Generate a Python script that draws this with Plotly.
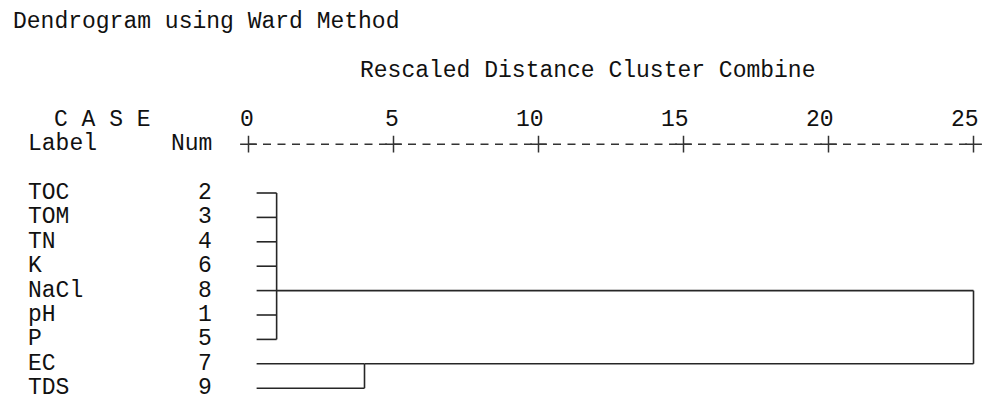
import plotly.graph_objects as go

# ---- data ----
labels = ["TOC", "TOM", "TN", "K", "NaCl", "pH", "P", "EC", "TDS"]
nums = [2, 3, 4, 6, 8, 1, 5, 7, 9]
tick_values = [0, 5, 10, 15, 20, 25]
tick_labels = ["0", "5", "10", "15", "20", "25"]
leaf_start = 0.28
# clusters: member rows, rescaled merge distance, row where the link leaves
cluster_rows = [[0, 1, 2, 3, 4, 5, 6], [7, 8]]
cluster_heights = [0.97, 4.0]
cluster_anchor = [4, 7]
final_height = 25.0

W, H = 983, 394
FONT = "Liberation Mono, Courier New, monospace"
FS = 23
LINE = "#262626"
TXT = "#111111"

# pixel <-> data mapping (layout only)
x0_px, unit_px = 248.5, 29.0
row0_px, row_px = 193.0, 24.4
xr = [(0 - x0_px) / unit_px, (W - x0_px) / unit_px]
yr = [(H - row0_px) / row_px, (0 - row0_px) / row_px]

fig = go.Figure()

xs, ys = [], []
def seg(xa, ya, xb, yb):
    xs.extend([xa, xb, None]); ys.extend([ya, yb, None])

for rows, h, anc in zip(cluster_rows, cluster_heights, cluster_anchor):
    for r in rows:
        seg(leaf_start, r, h, r)
    seg(h, min(rows), h, max(rows))
    seg(h, anc, final_height, anc)
seg(final_height, cluster_anchor[0], final_height, cluster_anchor[1])

fig.add_trace(go.Scatter(x=xs, y=ys, mode="lines",
                         line=dict(color=LINE, width=1.6), hoverinfo="skip"))

# rescaled-distance axis drawn as "+----+" ruler
fig.add_trace(go.Scatter(x=[tick_values[0], tick_values[-1]], y=[-2, -2], mode="lines",
                         line=dict(color="#333333", width=1.5, dash="8px,6.5px"),
                         hoverinfo="skip"))
fig.add_trace(go.Scatter(x=tick_values, y=[-2] * len(tick_values), mode="markers",
                         marker=dict(symbol="cross-thin", size=12,
                                     line=dict(color="#333333", width=1.5)),
                         hoverinfo="skip"))

ann = []
for t, lab in zip(tick_values, tick_labels):
    ann.append(dict(x=t, y=-3, xref="x", yref="y", text=lab, showarrow=False,
                    xanchor="right", xshift=7, yanchor="middle"))
for i, (lab, n) in enumerate(zip(labels, nums)):
    ann.append(dict(x=26 / W, y=i, xref="paper", yref="y", text=lab, showarrow=False,
                    xanchor="left", yanchor="middle"))
    ann.append(dict(x=214 / W, y=i, xref="paper", yref="y", text=str(n), showarrow=False,
                    xanchor="right", yanchor="middle"))

ann.append(dict(x=11 / W, y=-7, xref="paper", yref="y", text="Dendrogram using Ward Method",
                showarrow=False, xanchor="left", yanchor="middle"))
ann.append(dict(x=587 / W, y=-5, xref="paper", yref="y", text="Rescaled Distance Cluster Combine",
                showarrow=False, xanchor="center", yanchor="middle"))
ann.append(dict(x=52 / W, y=-3, xref="paper", yref="y", text="C A S E",
                showarrow=False, xanchor="left", yanchor="middle"))
ann.append(dict(x=26 / W, y=-2, xref="paper", yref="y", text="Label",
                showarrow=False, xanchor="left", yanchor="middle"))
ann.append(dict(x=214 / W, y=-2, xref="paper", yref="y", text="Num",
                showarrow=False, xanchor="right", yanchor="middle"))

fig.update_layout(
    width=W, height=H,
    margin=dict(l=0, r=0, t=0, b=0),
    paper_bgcolor="white", plot_bgcolor="white",
    showlegend=False,
    font=dict(family=FONT, size=FS, color=TXT),
    annotations=ann,
    xaxis=dict(range=xr, visible=False, fixedrange=True),
    yaxis=dict(range=yr, visible=False, fixedrange=True),
)

fig.write_html(
    "out.html",
    config={"displayModeBar": False},
    post_script="document.body.style.margin='0';document.body.style.overflow='hidden';",
)
